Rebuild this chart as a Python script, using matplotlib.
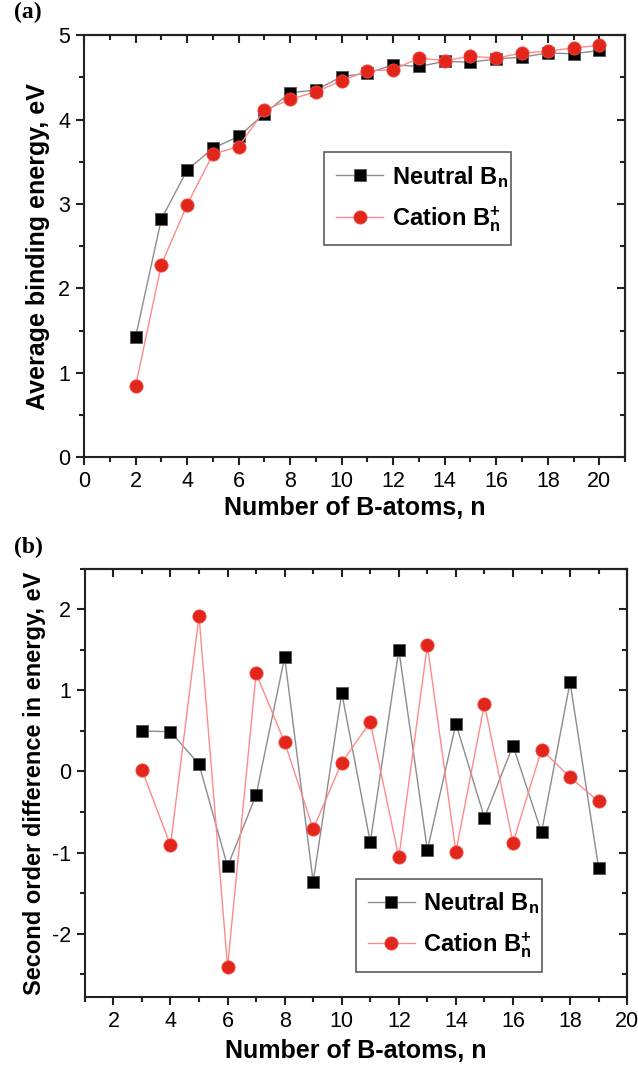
import matplotlib
matplotlib.use('Agg')
import matplotlib.pyplot as plt
from matplotlib.ticker import MultipleLocator

# cluster sizes
n_a = list(range(2, 21))
n_b = list(range(3, 20))

# average binding energy, eV
eb_neutral = [1.42, 2.82, 3.40, 3.66, 3.80, 4.07, 4.32, 4.35, 4.51, 4.55,
              4.65, 4.63, 4.69, 4.68, 4.72, 4.74, 4.79, 4.78, 4.82]
eb_cation = [0.84, 2.28, 2.99, 3.59, 3.68, 4.11, 4.24, 4.33, 4.46, 4.58,
             4.59, 4.73, 4.70, 4.75, 4.73, 4.79, 4.81, 4.85, 4.88]

# second order difference in energy, eV
d2_neutral = [0.50, 0.49, 0.09, -1.17, -0.29, 1.41, -1.36, 0.97, -0.87, 1.50,
              -0.97, 0.59, -0.57, 0.32, -0.75, 1.10, -1.19]
d2_cation = [0.02, -0.91, 1.92, -2.41, 1.21, 0.36, -0.71, 0.11, 0.61, -1.06,
             1.56, -0.99, 0.83, -0.88, 0.27, -0.07, -0.37]

sans = 'Liberation Sans'
plt.rcParams['font.family'] = [sans, 'DejaVu Sans']
plt.rcParams['axes.unicode_minus'] = False
plt.rcParams['mathtext.fontset'] = 'custom'
plt.rcParams['mathtext.rm'] = sans + ':bold'
plt.rcParams['mathtext.bf'] = sans + ':bold'
plt.rcParams['mathtext.it'] = sans + ':bold'

lab_n = r'Neutral B$_{\mathbf{n}}$'
lab_c = r'Cation B$_{\mathbf{n}}^{\mathbf{+}}$'

fig = plt.figure(figsize=(6.38, 10.68), dpi=100)
ax1 = fig.add_axes([0.1317, 0.572, 0.848, 0.395])
ax2 = fig.add_axes([0.133, 0.0665, 0.850, 0.401])


def style(ax, xmaj, ymaj, ymin):
    for s in ax.spines.values():
        s.set_linewidth(1.5)
        s.set_color('#222222')
    ax.xaxis.set_major_locator(MultipleLocator(xmaj))
    ax.xaxis.set_minor_locator(MultipleLocator(1))
    ax.yaxis.set_major_locator(MultipleLocator(ymaj))
    ax.yaxis.set_minor_locator(MultipleLocator(ymin))
    ax.tick_params(which='both', direction='out', top=False, right=False,
                   width=1.5, color='#222222', labelsize=15.5)
    ax.tick_params(which='major', length=6, pad=4)
    ax.tick_params(which='minor', length=3.5)
    # inward ticks on the top and right edges
    top = ax.secondary_xaxis('top')
    top.xaxis.set_major_locator(MultipleLocator(xmaj))
    top.xaxis.set_minor_locator(MultipleLocator(1))
    top.tick_params(which='both', direction='in', labeltop=False, width=1.5, color='#222222')
    top.tick_params(which='major', length=6)
    top.tick_params(which='minor', length=3.5)
    right = ax.secondary_yaxis('right')
    right.yaxis.set_major_locator(MultipleLocator(ymaj))
    right.yaxis.set_minor_locator(MultipleLocator(ymin))
    right.tick_params(which='both', direction='in', labelright=False, width=1.5, color='#222222')
    right.tick_params(which='major', length=6)
    right.tick_params(which='minor', length=3.5)
    for sec in (top, right):
        for s in sec.spines.values():
            s.set_linewidth(1.5)
            s.set_color('#222222')


def draw(ax, x, yn, yc):
    ax.plot(x, yn, color='#8c8c8c', lw=1.0, marker='s', ms=8,
            mfc='black', mec='#555555', mew=0.6, label=lab_n, zorder=3)
    ax.plot(x, yc, color='#ff8a8a', lw=1.0, marker='o', ms=9.5,
            mfc='#e3261c', mec='#f04a40', mew=0.6, label=lab_c, zorder=4)


def legend(ax, box):
    leg = ax.legend(loc='lower left', bbox_to_anchor=box, mode='expand',
                    fontsize=17, frameon=True, fancybox=False,
                    edgecolor='#333333', handlelength=2.0, handletextpad=0.35,
                    borderaxespad=0, labelspacing=0.6, borderpad=0.5)
    leg.get_frame().set_linewidth(1.2)
    for t in leg.get_texts():
        t.set_fontweight('bold')


# (a) average binding energy
draw(ax1, n_a, eb_neutral, eb_cation)
ax1.set_xlim(0, 21)
ax1.set_ylim(0, 5)
style(ax1, 2, 1, 0.5)
ax1.set_xlabel('Number of B-atoms, n', fontsize=18, fontweight='bold', labelpad=3)
ax1.set_ylabel('Average binding energy, eV', fontsize=18, fontweight='bold', labelpad=6)
legend(ax1, (0.444, 0.502, 0.345, 0.221))

# (b) second order difference
draw(ax2, n_b, d2_neutral, d2_cation)
ax2.set_xlim(1, 20)
ax2.set_ylim(-2.78, 2.5)
style(ax2, 2, 1, 0.5)
ax2.set_xlabel('Number of B-atoms, n', fontsize=18, fontweight='bold', labelpad=5)
ax2.set_ylabel('Second order difference in energy, eV', fontsize=17, fontweight='bold', labelpad=4)
legend(ax2, (0.50, 0.058, 0.343, 0.220))

fig.text(0.022, 0.988, '(a)', family='Liberation Serif', fontweight='bold',
         fontsize=17, va='center', ha='left')
fig.text(0.022, 0.487, '(b)', family='Liberation Serif', fontweight='bold',
         fontsize=17, va='center', ha='left')

fig.savefig('out.png', dpi=100)
